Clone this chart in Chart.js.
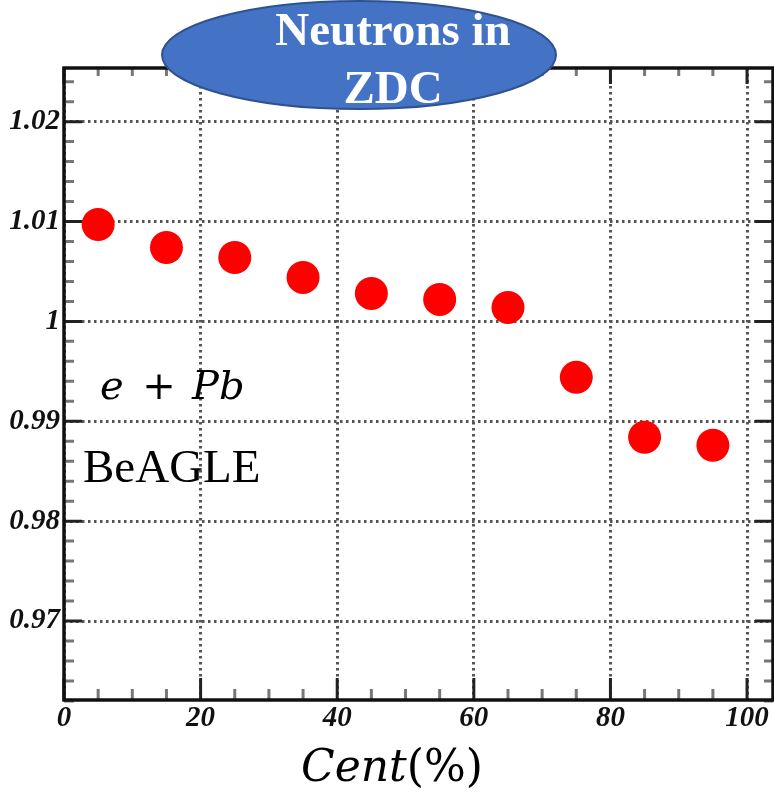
<!DOCTYPE html>
<html>
<head>
<meta charset="utf-8">
<script src="https://cdn.jsdelivr.net/npm/chart.js@4.4.1/dist/chart.umd.min.js"></script>
<style>
	html, body { margin: 0; padding: 0; background: #fff; }
	#wrap { position: relative; width: 774px; height: 795px; }
</style>
</head>
<body>
<div id="wrap"><canvas id="myChart"></canvas></div>
<script>
'use strict';

// *** Data ***
const aryCent = [5, 15, 25, 35, 45, 55, 65, 75, 85, 95];
const aryRatio = [1.0097, 1.0074, 1.0064, 1.0044, 1.0028, 1.0022, 1.0014, 0.9944, 0.9884, 0.9876];
const aryXTicks = [0, 20, 40, 60, 80, 100];
const aryYTicks = [0.97, 0.98, 0.99, 1.00, 1.01, 1.02];
const aryYLabels = ['0.97', '0.98', '0.99', '1', '1.01', '1.02'];
const aryTitle = ['Neutrons in', 'ZDC'];

const tickFont = { family: 'Liberation Serif', size: 29, weight: 'bold', style: 'italic' };

// frame, inward ticks, annotations and the blue badge
const decoPlugin = {
	id: 'deco',
	afterDatasetsDraw(chart) {
		const ctx = chart.ctx;
		const a = chart.chartArea;
		const sx = chart.scales.x;
		const sy = chart.scales.y;
		ctx.save();

		// minor ticks
		ctx.strokeStyle = '#777';
		ctx.lineWidth = 3;
		for (let v = 5; v < 104; v += 5) {
			if (v % 20 === 0) continue;
			const px = sx.getPixelForValue(v);
			ctx.beginPath();
			ctx.moveTo(px, a.bottom); ctx.lineTo(px, a.bottom - 11);
			ctx.moveTo(px, a.top); ctx.lineTo(px, a.top + 8);
			ctx.stroke();
		}
		for (let i = 481; i <= 512; i++) {
			const v = i / 500;
			if (i % 5 === 0) continue;
			const py = sy.getPixelForValue(v);
			ctx.beginPath();
			ctx.moveTo(a.left, py); ctx.lineTo(a.left + 10, py);
			ctx.moveTo(a.right, py); ctx.lineTo(a.right - 9, py);
			ctx.stroke();
		}

		// major ticks
		ctx.strokeStyle = '#222';
		aryXTicks.forEach((v) => {
			const px = sx.getPixelForValue(v);
			ctx.beginPath();
			ctx.moveTo(px, a.bottom); ctx.lineTo(px, a.bottom - 22);
			ctx.moveTo(px, a.top); ctx.lineTo(px, a.top + 16);
			ctx.stroke();
		});
		aryYTicks.forEach((v) => {
			const py = sy.getPixelForValue(v);
			ctx.beginPath();
			ctx.moveTo(a.left, py); ctx.lineTo(a.left + 18, py);
			ctx.moveTo(a.right, py); ctx.lineTo(a.right - 18, py);
			ctx.stroke();
		});

		// frame
		ctx.strokeStyle = '#111';
		ctx.lineWidth = 3.5;
		ctx.strokeRect(a.left, a.top, a.right - a.left, a.bottom - a.top);

		// annotations
		ctx.fillStyle = '#000';
		ctx.textBaseline = 'alphabetic';
		ctx.textAlign = 'left';
		ctx.font = 'italic 40px "DejaVu Serif"';
		ctx.fillText('e', 100, 399);
		ctx.fillText('Pb', 192, 399);
		ctx.font = '40px "DejaVu Serif"';
		ctx.textAlign = 'center';
		ctx.fillText('+', 159, 399);
		ctx.textAlign = 'left';
		ctx.font = '47px "Liberation Serif"';
		ctx.fillText('BeAGLE', 83, 482);

		// x axis title: Cent(%)
		ctx.font = 'italic 44px "DejaVu Serif"';
		const w1 = ctx.measureText('Cent').width;
		ctx.font = '44px "DejaVu Serif"';
		const w2 = ctx.measureText('(%)').width;
		const x0 = 392 - (w1 + w2) / 2;
		ctx.font = 'italic 44px "DejaVu Serif"';
		ctx.fillText('Cent', x0, 781);
		ctx.font = '44px "DejaVu Serif"';
		ctx.fillText('(%)', x0 + w1, 781);
		ctx.restore();
	},
	afterDraw(chart) {
		const ctx = chart.ctx;
		ctx.save();
		ctx.beginPath();
		ctx.ellipse(359, 55, 197, 54, 0, 0, Math.PI * 2);
		ctx.fillStyle = '#4472C4';
		ctx.fill();
		ctx.lineWidth = 2;
		ctx.strokeStyle = '#2F528F';
		ctx.stroke();
		ctx.fillStyle = '#fff';
		ctx.textAlign = 'center';
		ctx.textBaseline = 'alphabetic';
		ctx.font = 'bold 47px "Liberation Serif"';
		ctx.fillText(aryTitle[0], 393, 45);
		ctx.fillText(aryTitle[1], 393, 103);
		ctx.restore();
	},
};

function prepareDataSets() {
	const aryPoints = aryCent.map((c, i) => ({ x: c, y: aryRatio[i] }));
	return [{
		label: 'e+Pb BeAGLE',
		data: aryPoints,
		backgroundColor: 'rgb(255, 0, 0)',
		borderWidth: 0,
		pointRadius: 16.5,
		pointHoverRadius: 16.5,
	}];
}

function prepareOptions() {
	return {
		responsive: true,
		maintainAspectRatio: false,
		animation: false,
		layout: { autoPadding: false, padding: { top: 68, right: 1, left: 0, bottom: 0 } },
		plugins: {
			legend: { display: false },
			tooltip: { enabled: false },
		},
		scales: {
			x: {
				type: 'linear',
				min: 0,
				max: 103.8,
				afterBuildTicks: (scale) => { scale.ticks = aryXTicks.map((v) => ({ value: v })); },
				afterFit: (scale) => { scale.height = 95; },
				ticks: { color: '#111', font: tickFont, padding: 1, maxRotation: 0 },
				grid: { color: '#555', lineWidth: 3, drawTicks: false },
				border: { display: false, dash: [2.5, 3.5] },
			},
			y: {
				type: 'linear',
				min: 0.96209,
				max: 1.02537,
				afterBuildTicks: (scale) => { scale.ticks = aryYTicks.map((v) => ({ value: v })); },
				afterFit: (scale) => { scale.width = 64; },
				ticks: {
					color: '#111',
					font: tickFont,
					padding: 4,
					callback: (v) => aryYLabels[aryYTicks.findIndex((t) => Math.abs(t - v) < 1e-6)],
				},
				grid: { color: '#555', lineWidth: 3, drawTicks: false },
				border: { display: false, dash: [2.5, 3.5] },
			},
		},
	};
}

function chartIt() {
	const config = {
		type: 'scatter',
		data: { datasets: prepareDataSets() },
		options: prepareOptions(),
		plugins: [decoPlugin],
	};
	return new Chart(document.getElementById('myChart'), config);
}

// *** Entry Point ***
const myChart = chartIt();
</script>
</body>
</html>
